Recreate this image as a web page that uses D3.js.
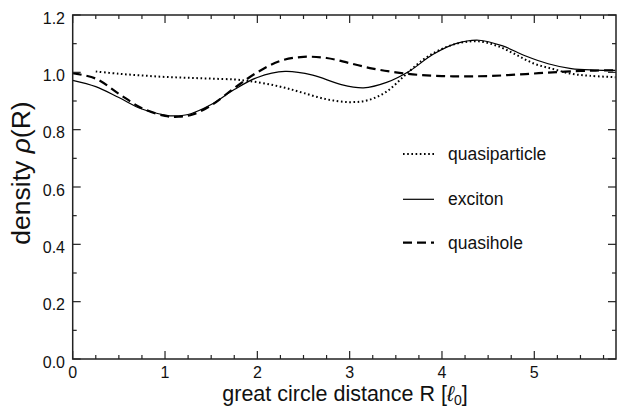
<!DOCTYPE html>
<html><head><meta charset="utf-8">
<script src="https://cdn.jsdelivr.net/npm/d3@7"></script>
<style>
body{margin:0;background:#fff;}
svg{display:block;font-family:"Liberation Sans",Arial,Helvetica,sans-serif;}
</style></head>
<body><svg id="c" width="623" height="407"></svg>
<script>
// data
const excitonX = [0,0.25,0.5,0.75,1.0,1.1,1.25,1.5,1.75,2.0,2.3,2.6,2.9,3.15,3.4,3.65,3.9,4.15,4.4,4.65,4.9,5.15,5.4,5.65,5.88];
const excitonY = [0.972,0.950,0.912,0.872,0.851,0.848,0.853,0.888,0.940,0.982,1.003,0.990,0.958,0.946,0.965,1.005,1.062,1.100,1.112,1.093,1.058,1.030,1.013,1.008,1.007];
const quasiparticleX = [0.25,0.5,0.75,1.0,1.25,1.5,1.75,1.9,2.1,2.3,2.5,2.75,3.0,3.2,3.4,3.6,3.8,4.0,4.2,4.4,4.6,4.8,5.0,5.2,5.4,5.6,5.88];
const quasiparticleY = [1.003,0.995,0.989,0.984,0.981,0.978,0.975,0.970,0.960,0.946,0.928,0.906,0.896,0.903,0.933,0.990,1.045,1.082,1.103,1.108,1.092,1.062,1.030,1.012,0.995,0.988,0.983];
const quasiholeX = [0,0.25,0.5,0.75,1.0,1.15,1.3,1.5,1.75,2.0,2.25,2.5,2.75,3.0,3.25,3.5,3.75,4.0,4.25,4.5,4.75,5.0,5.25,5.5,5.88];
const quasiholeY = [0.997,0.978,0.925,0.875,0.848,0.845,0.853,0.885,0.945,1.000,1.040,1.054,1.050,1.032,1.013,1.000,0.991,0.987,0.986,0.987,0.991,0.996,1.001,1.005,1.007];
const xTicks = [0,1,2,3,4,5];
const yTicks = [0.0,0.2,0.4,0.6,0.8,1.0,1.2];
const legendLabels = ["quasiparticle","exciton","quasihole"];

const svg = d3.select("#c");
const L=72.7, R=616, T=15, B=359;
const x = d3.scaleLinear().domain([0,5.885]).range([L,R]);
const y = d3.scaleLinear().domain([0,1.2]).range([B,T]);

const series = [
  {name:"quasiparticle", xs:quasiparticleX, ys:quasiparticleY, dash:"1.6,2.6", w:2.0},
  {name:"exciton", xs:excitonX, ys:excitonY, dash:null, w:1.2},
  {name:"quasihole", xs:quasiholeX, ys:quasiholeY, dash:"9,5", w:2.2}
];
const line = d3.line().x(d=>x(d[0])).y(d=>y(d[1])).curve(d3.curveCatmullRom.alpha(0.5));
series.forEach(s=>{
  svg.append("path").attr("d", line(s.xs.map((v,i)=>[v,s.ys[i]])))
    .attr("fill","none").attr("stroke","#000").attr("stroke-width",s.w)
    .attr("stroke-dasharray",s.dash);
});

// axes with inward ticks on all sides
const col="#222";
const xMinor = d3.range(0,5.9,0.25).filter(v=>Math.abs(v-Math.round(v))>1e-6);
const yMinor = d3.range(0.1,1.2,0.2);
function axes(){
  const g=svg.append("g").attr("stroke",col).attr("stroke-width",1.2);
  xTicks.forEach(v=>{
    g.append("line").attr("x1",x(v)).attr("x2",x(v)).attr("y1",B).attr("y2",B-8);
    g.append("line").attr("x1",x(v)).attr("x2",x(v)).attr("y1",T).attr("y2",T+8);
  });
  xMinor.forEach(v=>{
    g.append("line").attr("x1",x(v)).attr("x2",x(v)).attr("y1",B).attr("y2",B-4);
    g.append("line").attr("x1",x(v)).attr("x2",x(v)).attr("y1",T).attr("y2",T+4);
  });
  yTicks.forEach(v=>{
    g.append("line").attr("x1",L).attr("x2",L+8).attr("y1",y(v)).attr("y2",y(v));
    g.append("line").attr("x1",R).attr("x2",R-8).attr("y1",y(v)).attr("y2",y(v));
  });
  yMinor.forEach(v=>{
    g.append("line").attr("x1",L).attr("x2",L+4).attr("y1",y(v)).attr("y2",y(v));
    g.append("line").attr("x1",R).attr("x2",R-4).attr("y1",y(v)).attr("y2",y(v));
  });
  svg.append("rect").attr("x",L).attr("y",T).attr("width",R-L).attr("height",B-T)
    .attr("fill","none").attr("stroke",col).attr("stroke-width",1.5);
}
axes();

// tick labels
svg.append("g").selectAll("text").data(xTicks).join("text")
  .attr("x",d=>x(d)).attr("y",378).attr("text-anchor","middle")
  .attr("font-size",16).attr("fill","#111").text(d=>d3.format("d")(d));
svg.append("g").selectAll("text").data(yTicks).join("text")
  .attr("x",65).attr("y",d=>y(d)+8.5).attr("text-anchor","end")
  .attr("font-size",16).attr("fill","#111").text(d=>d3.format(".1f")(d));

// axis titles
const xt = svg.append("text").attr("x",345).attr("y",401).attr("text-anchor","middle")
  .attr("font-size",21.5).attr("fill","#111");
xt.append("tspan").text("great circle distance R [");
xt.append("tspan").attr("font-style","italic").text("ℓ");
xt.append("tspan").attr("font-size",14).attr("dy",4).text("0");
xt.append("tspan").attr("dy",-4).text("]");

const yt = svg.append("text").attr("transform","translate(30,173) rotate(-90)")
  .attr("text-anchor","middle").attr("font-size",26.5).attr("fill","#111");
yt.append("tspan").text("density ");
yt.append("tspan").attr("font-style","italic").text("ρ");
yt.append("tspan").text("(R)");

// legend
const legY=[154,199.3,242.7];
series.forEach((s,i)=>{
  svg.append("line").attr("x1",403).attr("x2",434).attr("y1",legY[i]).attr("y2",legY[i])
    .attr("stroke","#000").attr("stroke-width",s.w).attr("stroke-dasharray",s.dash);
  svg.append("text").attr("x",448).attr("y",legY[i]+6).attr("font-size",17.5).attr("fill","#111")
    .text(legendLabels[i]);
});
</script></body></html>
